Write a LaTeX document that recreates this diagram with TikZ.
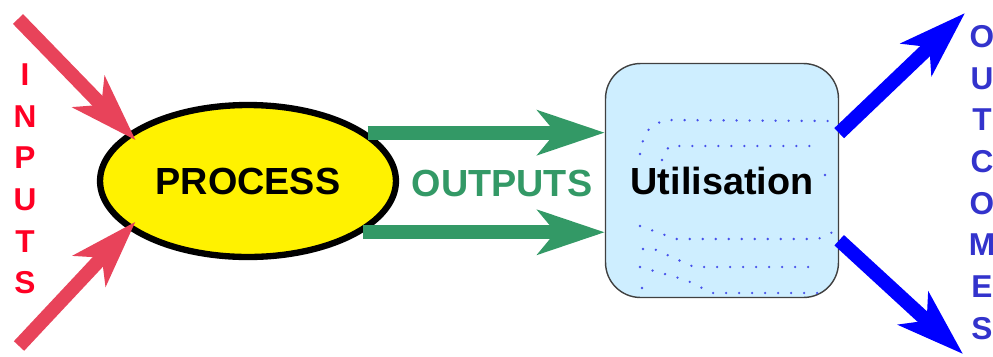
\documentclass[tikz,border=0pt]{standalone}
\usepackage{fontspec}
\setmainfont{Liberation Sans}
\usepackage{color}
\usepackage{tikz}
\usetikzlibrary{arrows.meta, shapes.geometric}

\definecolor{inred}{RGB}{232,67,90}
\definecolor{inletter}{RGB}{255,0,36}
\definecolor{outgreen}{RGB}{51,153,102}
\definecolor{outblue}{RGB}{0,0,255}
\definecolor{outletter}{RGB}{51,51,204}
\definecolor{boxblue}{RGB}{206,238,255}
\definecolor{dotblue}{RGB}{70,80,235}

\begin{document}
\begin{tikzpicture}[x=0.02cm, y=-0.02cm,
	bigarrow/.style={line width=8pt, -{Stealth[length=38pt, width=25pt, inset=10pt]}},
	procnode/.style={ellipse, draw=black, fill=yellow, line width=3.6pt, minimum width=5.92cm, minimum height=3.04cm, inner sep=0pt},
	usenode/.style={rectangle, draw=black!75, fill=boxblue, line width=0.8pt, rounded corners=0.7cm, minimum width=4.66cm, minimum height=4.68cm, inner sep=0pt},
	bigtext/.style={font=\fontsize{21.5}{26}\selectfont\bfseries},
	lettercol/.style={align=center, inner sep=0pt, font=\fontsize{18}{23.7}\selectfont\bfseries},
	dotline/.style={dotblue, line width=1.5pt, line cap=round, dash pattern=on 0pt off 7.4pt}]
	\useasboundingbox (0, 0) rectangle (993, 356);

	% the two blocks
	\node[procnode, bigtext] (process) at (248, 181) {PROCESS};
	\node[usenode, bigtext] (util) at (722, 180.5) {Utilisation};
	\node[bigtext, text=outgreen, inner sep=0pt] (outputs) at (502, 183) {OUTPUTS};

	% dotted marks inside the box
	\draw[dotline] (640, 154) .. controls (645, 130) .. (664, 120) -- (831, 121);
	\draw[dotline] (662, 160) -- (669, 146) -- (821, 146);
	\draw[dotline] (825, 175) -- (833, 170);
	\draw[dotline] (640, 226) -- (676, 239) -- (818, 239) -- (833, 232);
	\draw[dotline] (643, 249) -- (654, 249) -- (694, 267) -- (815, 267);
	\draw[dotline] (640, 267) -- (686, 280) -- (712, 293) -- (820, 293);
	\draw[dotline] (642, 288) -- (652, 285);

	% side labels
	\node[lettercol, text=inletter] (inputs) at (25, 179) {I\\N\\P\\U\\T\\S};
	\node[lettercol, text=outletter] (outcomes) at (982, 182.5) {O\\U\\T\\C\\O\\M\\E\\S};

	% arrows
	\coordinate (in-a) at (18, 19);
	\coordinate (in-b) at (19, 346);
	\coordinate (out-a) at (965, 13);
	\coordinate (out-b) at (963, 354);
	\draw[bigarrow, outgreen] (process.22.5) -- (process.22.5 -| util.west);
	\draw[bigarrow, outgreen] (process.336) -- (process.336 -| util.west);
	\draw[bigarrow, inred, shorten >=-6pt] (in-a) -- (process.158);
	\draw[bigarrow, inred, shorten >=-6pt] (in-b) -- (process.202);
	\draw[bigarrow, outblue] (util.22) -- (out-a);
	\draw[bigarrow, outblue] (util.333) -- (out-b);
\end{tikzpicture}
\end{document}
